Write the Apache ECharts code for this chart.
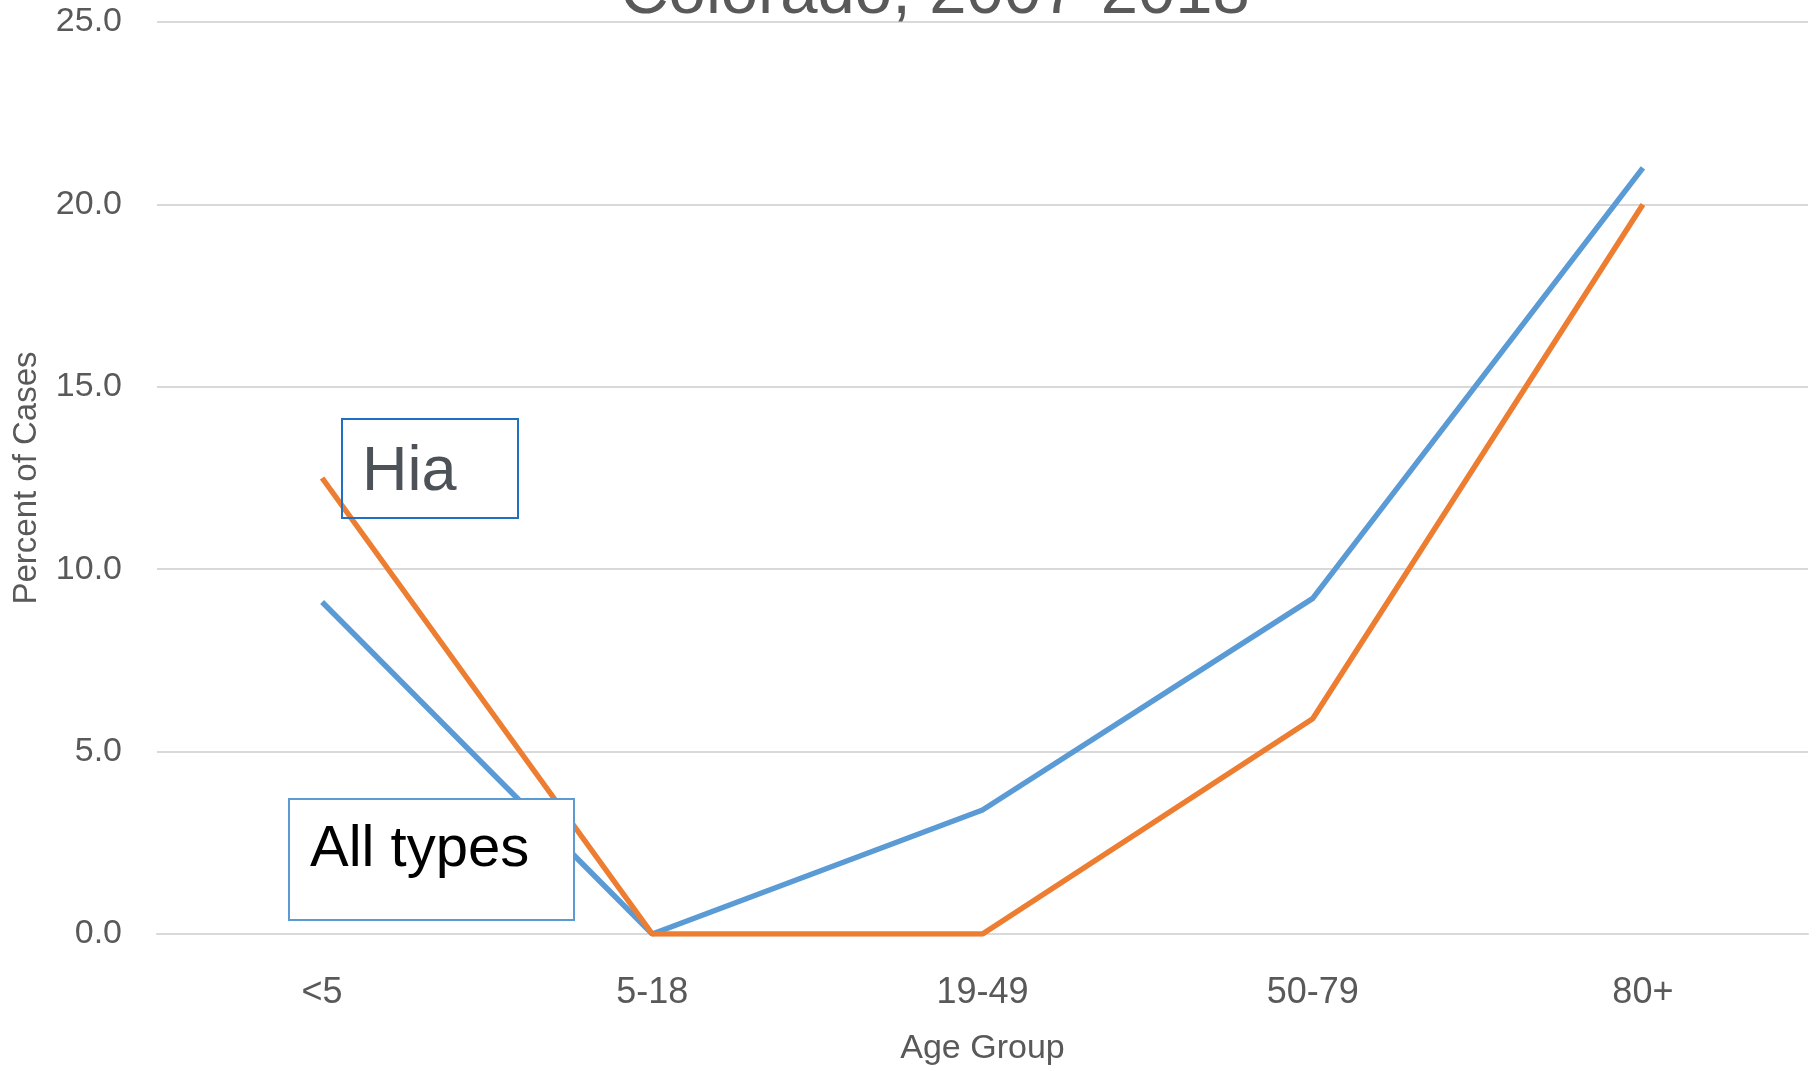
<!DOCTYPE html>
<html>
<head>
<meta charset="utf-8">
<script src="https://cdn.jsdelivr.net/npm/echarts@6/dist/echarts.min.js"></script>
<style>
html,body{margin:0;padding:0;background:#fff;}
#chart{width:1820px;height:1071px;}
</style>
</head>
<body>
<div id="chart"></div>
<script>
var categories = ['<5', '5-18', '19-49', '50-79', '80+'];
var allTypes = [9.1, 0.0, 3.4, 9.2, 21.0];
var hia = [12.5, 0.0, 0.0, 5.9, 20.0];
var yTicks = [0, 5, 10, 15, 20, 25];
var titleText = 'Colorado, 2007-2018';
var xName = 'Age Group';
var yName = 'Percent of Cases';

var font = '"Liberation Sans", Arial, sans-serif';
var chart = echarts.init(document.getElementById('chart'));
chart.setOption({
  animation: false,
  backgroundColor: '#ffffff',
  grid: {left: 157, right: 12, top: 22, bottom: 133, containLabel: false},
  xAxis: {
    type: 'category',
    data: categories,
    boundaryGap: true,
    name: xName,
    nameLocation: 'middle',
    nameGap: 98,
    nameTextStyle: {fontFamily: font, fontSize: 34, color: '#595959'},
    axisLine: {show: true, lineStyle: {color: '#d9d9d9', width: 2}},
    axisTick: {show: false},
    axisLabel: {fontFamily: font, fontSize: 36, color: '#595959', margin: 41}
  },
  yAxis: {
    type: 'value',
    min: yTicks[0],
    max: yTicks[yTicks.length - 1],
    interval: 5,
    name: yName,
    nameLocation: 'middle',
    nameGap: 114,
    nameTextStyle: {fontFamily: font, fontSize: 33, color: '#595959'},
    axisLine: {show: false},
    axisTick: {show: false},
    axisLabel: {fontFamily: font, fontSize: 34, color: '#595959', margin: 35,
      formatter: function (v) { return v.toFixed(1); }},
    splitLine: {lineStyle: {color: '#d9d9d9', width: 2}}
  },
  series: [
    {name: 'All types', type: 'line', data: allTypes, showSymbol: false,
      lineStyle: {color: '#5b9bd5', width: 5.5}, itemStyle: {color: '#5b9bd5'}, z: 2},
    {name: 'Hia', type: 'line', data: hia, showSymbol: false,
      lineStyle: {color: '#ed7d31', width: 5.5}, itemStyle: {color: '#ed7d31'}, z: 3}
  ],
  graphic: [
    {type: 'text', z: 100, style: {text: titleText, x: 935, y: -5, textAlign: 'center', textVerticalAlign: 'middle',
      font: '67px ' + font, fill: '#595959'}},
    {type: 'rect', z: 100, shape: {x: 342, y: 419, width: 176, height: 99},
      style: {fill: 'none', stroke: '#1f6fc5', lineWidth: 2}},
    {type: 'text', z: 101, style: {text: 'Hia', x: 362, y: 473, textVerticalAlign: 'middle',
      font: '63px ' + font, fill: '#4d5259'}},
    {type: 'rect', z: 100, shape: {x: 289, y: 799, width: 285, height: 121},
      style: {fill: '#ffffff', stroke: '#5b9bd5', lineWidth: 2}},
    {type: 'text', z: 101, style: {text: 'All types', x: 310, y: 850, textVerticalAlign: 'middle',
      font: '58px ' + font, fill: '#000000'}}
  ]
});
</script>
</body>
</html>
